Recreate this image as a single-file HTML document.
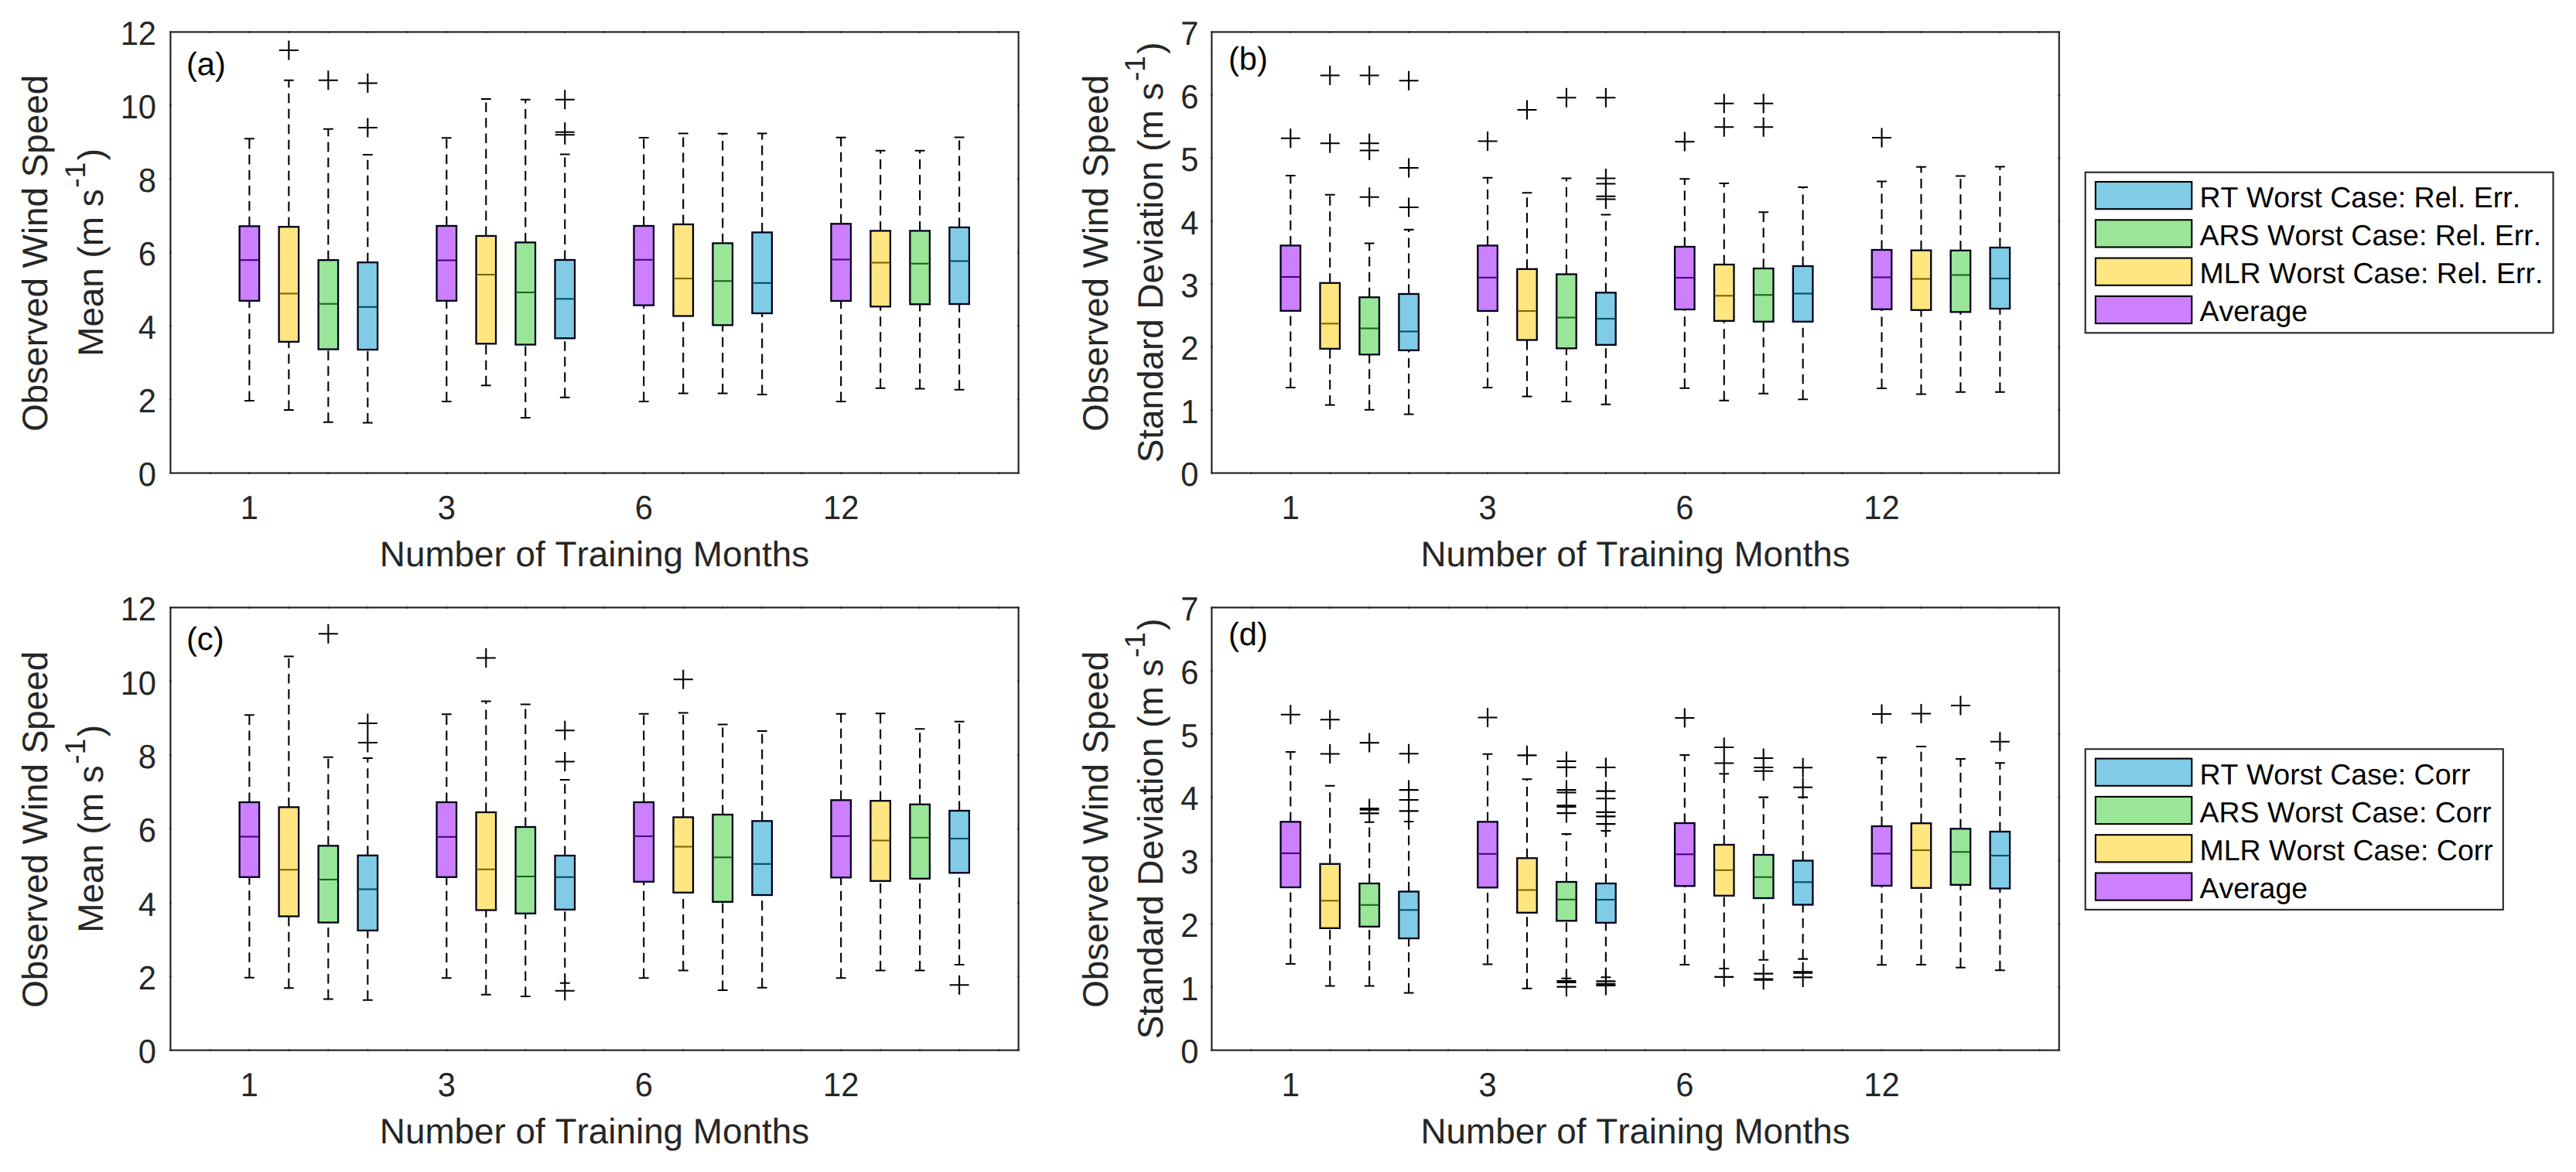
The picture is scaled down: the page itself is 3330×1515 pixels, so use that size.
<!DOCTYPE html>
<html><head><meta charset="utf-8"><title>Boxplots</title>
<style>html,body{margin:0;padding:0;background:#fff;}svg{display:block;font-family:"Liberation Sans",sans-serif;font-kerning:none;text-rendering:geometricPrecision}.t{font-size:41.67px;fill:#262626}.l{font-size:45.83px;fill:#262626}.g{font-size:37.50px;fill:#000}.n{font-size:41.67px;fill:#000}.w{stroke:#000;stroke-width:2.1;stroke-dasharray:12.5 7.5;fill:none}.k{stroke:#000;stroke-width:2.1;fill:none}</style></head><body>
<svg width="3330" height="1515" viewBox="0 0 3330 1515">
<rect x="0" y="0" width="3330" height="1515" fill="#fff"/>
<g>
<path class="w" d="M322.37 292.4V179.3"/>
<path class="w" d="M322.37 518V388.8"/>
<path class="k" d="M315.97 179.3H328.77M315.97 518H328.77"/>
<rect x="309.62" y="292.4" width="25.5" height="96.4" fill="#CC80FF" stroke="#00001a" stroke-width="2.3"/>
<path d="M310.72 336.2H334.02" stroke="#4C0080" stroke-width="2.1"/>
<path class="w" d="M373.36 293.2V103.8"/>
<path class="w" d="M373.36 530V441.8"/>
<path class="k" d="M366.96 103.8H379.76M366.96 530H379.76"/>
<rect x="360.61" y="293.2" width="25.5" height="148.6" fill="#FFE680" stroke="#00001a" stroke-width="2.3"/>
<path d="M361.71 379.5H385.01" stroke="#806600" stroke-width="2.1"/>
<path class="k" d="M360.86 65H385.86M373.36 52.5V77.5"/>
<path class="w" d="M424.34 336.2V166.8"/>
<path class="w" d="M424.34 545.8V451.5"/>
<path class="k" d="M417.94 166.8H430.74M417.94 545.8H430.74"/>
<rect x="411.59" y="336.2" width="25.5" height="115.3" fill="#99E699" stroke="#00001a" stroke-width="2.3"/>
<path d="M412.69 392.8H435.99" stroke="#1A661A" stroke-width="2.1"/>
<path class="k" d="M411.84 103.8H436.84M424.34 91.3V116.3"/>
<path class="w" d="M475.33 339.2V200"/>
<path class="w" d="M475.33 546.5V452"/>
<path class="k" d="M468.93 200H481.73M468.93 546.5H481.73"/>
<rect x="462.58" y="339.2" width="25.5" height="112.8" fill="#80CCE6" stroke="#00001a" stroke-width="2.3"/>
<path d="M463.68 396.8H486.98" stroke="#004D66" stroke-width="2.1"/>
<path class="k" d="M462.83 107.5H487.83M475.33 95V120M462.83 165H487.83M475.33 152.5V177.5"/>
<path class="w" d="M577.3 292V178.3"/>
<path class="w" d="M577.3 519V388.8"/>
<path class="k" d="M570.9 178.3H583.7M570.9 519H583.7"/>
<rect x="564.55" y="292" width="25.5" height="96.8" fill="#CC80FF" stroke="#00001a" stroke-width="2.3"/>
<path d="M565.65 336.5H588.95" stroke="#4C0080" stroke-width="2.1"/>
<path class="w" d="M628.29 305V128"/>
<path class="w" d="M628.29 498.3V444.3"/>
<path class="k" d="M621.89 128H634.69M621.89 498.3H634.69"/>
<rect x="615.54" y="305" width="25.5" height="139.3" fill="#FFE680" stroke="#00001a" stroke-width="2.3"/>
<path d="M616.64 355H639.94" stroke="#806600" stroke-width="2.1"/>
<path class="w" d="M679.27 313.4V128.8"/>
<path class="w" d="M679.27 540V445.5"/>
<path class="k" d="M672.87 128.8H685.67M672.87 540H685.67"/>
<rect x="666.52" y="313.4" width="25.5" height="132.1" fill="#99E699" stroke="#00001a" stroke-width="2.3"/>
<path d="M667.62 378H690.92" stroke="#1A661A" stroke-width="2.1"/>
<path class="w" d="M730.26 336V199.5"/>
<path class="w" d="M730.26 513.8V437.3"/>
<path class="k" d="M723.86 199.5H736.66M723.86 513.8H736.66"/>
<rect x="717.51" y="336" width="25.5" height="101.3" fill="#80CCE6" stroke="#00001a" stroke-width="2.3"/>
<path d="M718.61 386.3H741.91" stroke="#004D66" stroke-width="2.1"/>
<path class="k" d="M717.76 128.8H742.76M730.26 116.3V141.3M717.76 170.8H742.76M730.26 158.3V183.3M717.76 174.3H742.76M730.26 161.8V186.8"/>
<path class="w" d="M832.23 292V178"/>
<path class="w" d="M832.23 519V394.6"/>
<path class="k" d="M825.83 178H838.63M825.83 519H838.63"/>
<rect x="819.48" y="292" width="25.5" height="102.6" fill="#CC80FF" stroke="#00001a" stroke-width="2.3"/>
<path d="M820.58 335.8H843.88" stroke="#4C0080" stroke-width="2.1"/>
<path class="w" d="M883.22 290V172.5"/>
<path class="w" d="M883.22 508.5V408.5"/>
<path class="k" d="M876.82 172.5H889.62M876.82 508.5H889.62"/>
<rect x="870.47" y="290" width="25.5" height="118.5" fill="#FFE680" stroke="#00001a" stroke-width="2.3"/>
<path d="M871.57 360H894.87" stroke="#806600" stroke-width="2.1"/>
<path class="w" d="M934.2 314.4V172.8"/>
<path class="w" d="M934.2 508.5V420.3"/>
<path class="k" d="M927.8 172.8H940.6M927.8 508.5H940.6"/>
<rect x="921.45" y="314.4" width="25.5" height="105.9" fill="#99E699" stroke="#00001a" stroke-width="2.3"/>
<path d="M922.55 363.3H945.85" stroke="#1A661A" stroke-width="2.1"/>
<path class="w" d="M985.19 300.4V172.5"/>
<path class="w" d="M985.19 510V405"/>
<path class="k" d="M978.79 172.5H991.59M978.79 510H991.59"/>
<rect x="972.44" y="300.4" width="25.5" height="104.6" fill="#80CCE6" stroke="#00001a" stroke-width="2.3"/>
<path d="M973.54 365.8H996.84" stroke="#004D66" stroke-width="2.1"/>
<path class="w" d="M1087.16 289.3V177.8"/>
<path class="w" d="M1087.16 519V389"/>
<path class="k" d="M1080.76 177.8H1093.56M1080.76 519H1093.56"/>
<rect x="1074.41" y="289.3" width="25.5" height="99.7" fill="#CC80FF" stroke="#00001a" stroke-width="2.3"/>
<path d="M1075.51 335.5H1098.81" stroke="#4C0080" stroke-width="2.1"/>
<path class="w" d="M1138.15 298.4V194.8"/>
<path class="w" d="M1138.15 501.8V396.3"/>
<path class="k" d="M1131.75 194.8H1144.55M1131.75 501.8H1144.55"/>
<rect x="1125.4" y="298.4" width="25.5" height="97.9" fill="#FFE680" stroke="#00001a" stroke-width="2.3"/>
<path d="M1126.5 339.5H1149.8" stroke="#806600" stroke-width="2.1"/>
<path class="w" d="M1189.13 298.4V194.8"/>
<path class="w" d="M1189.13 502.5V393.3"/>
<path class="k" d="M1182.73 194.8H1195.53M1182.73 502.5H1195.53"/>
<rect x="1176.38" y="298.4" width="25.5" height="94.9" fill="#99E699" stroke="#00001a" stroke-width="2.3"/>
<path d="M1177.48 340.8H1200.78" stroke="#1A661A" stroke-width="2.1"/>
<path class="w" d="M1240.12 293.9V177.5"/>
<path class="w" d="M1240.12 503.8V393"/>
<path class="k" d="M1233.72 177.5H1246.52M1233.72 503.8H1246.52"/>
<rect x="1227.37" y="293.9" width="25.5" height="99.1" fill="#80CCE6" stroke="#00001a" stroke-width="2.3"/>
<path d="M1228.47 337.5H1251.77" stroke="#004D66" stroke-width="2.1"/>
<rect x="220.4" y="41.4" width="1096.2" height="570.1" fill="none" stroke="#262626" stroke-width="2.2"/>
<path d="M271.39 39.9v3M271.39 610v3M322.37 39.9v3M322.37 610v3M373.36 39.9v3M373.36 610v3M424.34 39.9v3M424.34 610v3M475.33 39.9v3M475.33 610v3M526.32 39.9v3M526.32 610v3M577.3 39.9v3M577.3 610v3M628.29 39.9v3M628.29 610v3M679.27 39.9v3M679.27 610v3M730.26 39.9v3M730.26 610v3M781.25 39.9v3M781.25 610v3M832.23 39.9v3M832.23 610v3M883.22 39.9v3M883.22 610v3M934.2 39.9v3M934.2 610v3M985.19 39.9v3M985.19 610v3M1036.18 39.9v3M1036.18 610v3M1087.16 39.9v3M1087.16 610v3M1138.15 39.9v3M1138.15 610v3M1189.13 39.9v3M1189.13 610v3M1240.12 39.9v3M1240.12 610v3M1291.11 39.9v3M1291.11 610v3M218.9 611.5h3M1315.1 611.5h3M218.9 516.48h3M1315.1 516.48h3M218.9 421.47h3M1315.1 421.47h3M218.9 326.45h3M1315.1 326.45h3M218.9 231.43h3M1315.1 231.43h3M218.9 136.42h3M1315.1 136.42h3M218.9 41.4h3M1315.1 41.4h3" stroke="#262626" stroke-width="2.2" opacity="0.6" fill="none"/>
<text class="t" transform="translate(202 628.3) scale(1 1.04)" text-anchor="end">0</text>
<text class="t" transform="translate(202 533.28) scale(1 1.04)" text-anchor="end">2</text>
<text class="t" transform="translate(202 438.27) scale(1 1.04)" text-anchor="end">4</text>
<text class="t" transform="translate(202 343.25) scale(1 1.04)" text-anchor="end">6</text>
<text class="t" transform="translate(202 248.23) scale(1 1.04)" text-anchor="end">8</text>
<text class="t" transform="translate(202 153.22) scale(1 1.04)" text-anchor="end">10</text>
<text class="t" transform="translate(202 58.2) scale(1 1.04)" text-anchor="end">12</text>
<text class="t" transform="translate(322.37 671.2) scale(1 1.04)" text-anchor="middle">1</text>
<text class="t" transform="translate(577.3 671.2) scale(1 1.04)" text-anchor="middle">3</text>
<text class="t" transform="translate(832.23 671.2) scale(1 1.04)" text-anchor="middle">6</text>
<text class="t" transform="translate(1087.16 671.2) scale(1 1.04)" text-anchor="middle">12</text>
<text class="l" x="768.5" y="731.6" text-anchor="middle">Number of Training Months</text>
<text class="l" transform="translate(61.4 327.25) rotate(-90)" text-anchor="middle">Observed Wind Speed</text>
<text class="l" transform="translate(132.7 326.45) rotate(-90)" text-anchor="middle">Mean (m s<tspan dx="1.7" dy="-22.7" font-size="37.2">-1</tspan><tspan dx="2.2" dy="22.7">)</tspan></text>
<text class="n" x="241" y="96.5">(a)</text>
</g>
<g>
<path class="w" d="M1668.3 317.4V227"/>
<path class="w" d="M1668.3 501V401.8"/>
<path class="k" d="M1661.9 227H1674.7M1661.9 501H1674.7"/>
<rect x="1655.55" y="317.4" width="25.5" height="84.4" fill="#CC80FF" stroke="#00001a" stroke-width="2.3"/>
<path d="M1656.65 358H1679.95" stroke="#4C0080" stroke-width="2.1"/>
<path class="k" d="M1655.8 178.75H1680.8M1668.3 166.25V191.25"/>
<path class="w" d="M1719.25 365.8V251.8"/>
<path class="w" d="M1719.25 523.5V450.8"/>
<path class="k" d="M1712.85 251.8H1725.65M1712.85 523.5H1725.65"/>
<rect x="1706.5" y="365.8" width="25.5" height="85" fill="#FFE680" stroke="#00001a" stroke-width="2.3"/>
<path d="M1707.6 418.3H1730.9" stroke="#806600" stroke-width="2.1"/>
<path class="k" d="M1706.75 97.5H1731.75M1719.25 85V110M1706.75 185.25H1731.75M1719.25 172.75V197.75"/>
<path class="w" d="M1770.2 384.3V314.5"/>
<path class="w" d="M1770.2 529.8V458.3"/>
<path class="k" d="M1763.8 314.5H1776.6M1763.8 529.8H1776.6"/>
<rect x="1757.45" y="384.3" width="25.5" height="74" fill="#99E699" stroke="#00001a" stroke-width="2.3"/>
<path d="M1758.55 424.5H1781.85" stroke="#1A661A" stroke-width="2.1"/>
<path class="k" d="M1757.7 97.5H1782.7M1770.2 85V110M1757.7 185.25H1782.7M1770.2 172.75V197.75M1757.7 194.5H1782.7M1770.2 182V207M1757.7 254.75H1782.7M1770.2 242.25V267.25"/>
<path class="w" d="M1821.14 380V296.9"/>
<path class="w" d="M1821.14 535.5V452.8"/>
<path class="k" d="M1814.74 296.9H1827.54M1814.74 535.5H1827.54"/>
<rect x="1808.39" y="380" width="25.5" height="72.8" fill="#80CCE6" stroke="#00001a" stroke-width="2.3"/>
<path d="M1809.49 428.5H1832.79" stroke="#004D66" stroke-width="2.1"/>
<path class="k" d="M1808.64 104.25H1833.64M1821.14 91.75V116.75M1808.64 217H1833.64M1821.14 204.5V229.5M1808.64 268H1833.64M1821.14 255.5V280.5"/>
<path class="w" d="M1923.04 317.4V229.7"/>
<path class="w" d="M1923.04 501V402"/>
<path class="k" d="M1916.64 229.7H1929.44M1916.64 501H1929.44"/>
<rect x="1910.29" y="317.4" width="25.5" height="84.6" fill="#CC80FF" stroke="#00001a" stroke-width="2.3"/>
<path d="M1911.39 358.8H1934.69" stroke="#4C0080" stroke-width="2.1"/>
<path class="k" d="M1910.54 182.5H1935.54M1923.04 170V195"/>
<path class="w" d="M1973.99 347.8V249.3"/>
<path class="w" d="M1973.99 512.5V439.5"/>
<path class="k" d="M1967.59 249.3H1980.39M1967.59 512.5H1980.39"/>
<rect x="1961.24" y="347.8" width="25.5" height="91.7" fill="#FFE680" stroke="#00001a" stroke-width="2.3"/>
<path d="M1962.34 402H1985.64" stroke="#806600" stroke-width="2.1"/>
<path class="k" d="M1961.49 142H1986.49M1973.99 129.5V154.5"/>
<path class="w" d="M2024.94 354.5V230.5"/>
<path class="w" d="M2024.94 519V450.3"/>
<path class="k" d="M2018.54 230.5H2031.34M2018.54 519H2031.34"/>
<rect x="2012.19" y="354.5" width="25.5" height="95.8" fill="#99E699" stroke="#00001a" stroke-width="2.3"/>
<path d="M2013.29 410.5H2036.59" stroke="#1A661A" stroke-width="2.1"/>
<path class="k" d="M2012.44 126.25H2037.44M2024.94 113.75V138.75"/>
<path class="w" d="M2075.89 378.3V277.5"/>
<path class="w" d="M2075.89 522.8V445.8"/>
<path class="k" d="M2069.49 277.5H2082.29M2069.49 522.8H2082.29"/>
<rect x="2063.14" y="378.3" width="25.5" height="67.5" fill="#80CCE6" stroke="#00001a" stroke-width="2.3"/>
<path d="M2064.24 412H2087.54" stroke="#004D66" stroke-width="2.1"/>
<path class="k" d="M2063.39 126.25H2088.39M2075.89 113.75V138.75M2063.39 230.5H2088.39M2075.89 218V243M2063.39 237.5H2088.39M2075.89 225V250M2063.39 253.75H2088.39M2075.89 241.25V266.25M2063.39 257.5H2088.39M2075.89 245V270"/>
<path class="w" d="M2177.79 319V231.2"/>
<path class="w" d="M2177.79 501.8V400"/>
<path class="k" d="M2171.39 231.2H2184.19M2171.39 501.8H2184.19"/>
<rect x="2165.04" y="319" width="25.5" height="81" fill="#CC80FF" stroke="#00001a" stroke-width="2.3"/>
<path d="M2166.14 359H2189.44" stroke="#4C0080" stroke-width="2.1"/>
<path class="k" d="M2165.29 183.1H2190.29M2177.79 170.6V195.6"/>
<path class="w" d="M2228.73 342V237"/>
<path class="w" d="M2228.73 517.8V414.8"/>
<path class="k" d="M2222.33 237H2235.13M2222.33 517.8H2235.13"/>
<rect x="2215.98" y="342" width="25.5" height="72.8" fill="#FFE680" stroke="#00001a" stroke-width="2.3"/>
<path d="M2217.08 382.3H2240.38" stroke="#806600" stroke-width="2.1"/>
<path class="k" d="M2216.23 133.75H2241.23M2228.73 121.25V146.25M2216.23 164.25H2241.23M2228.73 151.75V176.75"/>
<path class="w" d="M2279.68 347V274.3"/>
<path class="w" d="M2279.68 508.8V415.8"/>
<path class="k" d="M2273.28 274.3H2286.08M2273.28 508.8H2286.08"/>
<rect x="2266.93" y="347" width="25.5" height="68.8" fill="#99E699" stroke="#00001a" stroke-width="2.3"/>
<path d="M2268.03 381.3H2291.33" stroke="#1A661A" stroke-width="2.1"/>
<path class="k" d="M2267.18 133.75H2292.18M2279.68 121.25V146.25M2267.18 164.25H2292.18M2279.68 151.75V176.75"/>
<path class="w" d="M2330.63 344V242"/>
<path class="w" d="M2330.63 516.3V415.8"/>
<path class="k" d="M2324.23 242H2337.03M2324.23 516.3H2337.03"/>
<rect x="2317.88" y="344" width="25.5" height="71.8" fill="#80CCE6" stroke="#00001a" stroke-width="2.3"/>
<path d="M2318.98 379.5H2342.28" stroke="#004D66" stroke-width="2.1"/>
<path class="w" d="M2432.53 323V234.5"/>
<path class="w" d="M2432.53 502V399.8"/>
<path class="k" d="M2426.13 234.5H2438.93M2426.13 502H2438.93"/>
<rect x="2419.78" y="323" width="25.5" height="76.8" fill="#CC80FF" stroke="#00001a" stroke-width="2.3"/>
<path d="M2420.88 358.5H2444.18" stroke="#4C0080" stroke-width="2.1"/>
<path class="k" d="M2420.03 178H2445.03M2432.53 165.5V190.5"/>
<path class="w" d="M2483.48 323.6V215.8"/>
<path class="w" d="M2483.48 509.5V400.8"/>
<path class="k" d="M2477.08 215.8H2489.88M2477.08 509.5H2489.88"/>
<rect x="2470.73" y="323.6" width="25.5" height="77.2" fill="#FFE680" stroke="#00001a" stroke-width="2.3"/>
<path d="M2471.83 360.5H2495.13" stroke="#806600" stroke-width="2.1"/>
<path class="w" d="M2534.43 323.8V227.5"/>
<path class="w" d="M2534.43 506.8V403.3"/>
<path class="k" d="M2528.03 227.5H2540.83M2528.03 506.8H2540.83"/>
<rect x="2521.68" y="323.8" width="25.5" height="79.5" fill="#99E699" stroke="#00001a" stroke-width="2.3"/>
<path d="M2522.78 355.5H2546.08" stroke="#1A661A" stroke-width="2.1"/>
<path class="w" d="M2585.38 320V215.5"/>
<path class="w" d="M2585.38 506.8V399"/>
<path class="k" d="M2578.98 215.5H2591.78M2578.98 506.8H2591.78"/>
<rect x="2572.63" y="320" width="25.5" height="79" fill="#80CCE6" stroke="#00001a" stroke-width="2.3"/>
<path d="M2573.73 360H2597.03" stroke="#004D66" stroke-width="2.1"/>
<rect x="1566.4" y="41.4" width="1095.4" height="570.1" fill="none" stroke="#262626" stroke-width="2.2"/>
<path d="M1617.35 39.9v3M1617.35 610v3M1668.3 39.9v3M1668.3 610v3M1719.25 39.9v3M1719.25 610v3M1770.2 39.9v3M1770.2 610v3M1821.14 39.9v3M1821.14 610v3M1872.09 39.9v3M1872.09 610v3M1923.04 39.9v3M1923.04 610v3M1973.99 39.9v3M1973.99 610v3M2024.94 39.9v3M2024.94 610v3M2075.89 39.9v3M2075.89 610v3M2126.84 39.9v3M2126.84 610v3M2177.79 39.9v3M2177.79 610v3M2228.73 39.9v3M2228.73 610v3M2279.68 39.9v3M2279.68 610v3M2330.63 39.9v3M2330.63 610v3M2381.58 39.9v3M2381.58 610v3M2432.53 39.9v3M2432.53 610v3M2483.48 39.9v3M2483.48 610v3M2534.43 39.9v3M2534.43 610v3M2585.38 39.9v3M2585.38 610v3M2636.33 39.9v3M2636.33 610v3M1564.9 611.5h3M2660.3 611.5h3M1564.9 530.06h3M2660.3 530.06h3M1564.9 448.61h3M2660.3 448.61h3M1564.9 367.17h3M2660.3 367.17h3M1564.9 285.73h3M2660.3 285.73h3M1564.9 204.29h3M2660.3 204.29h3M1564.9 122.84h3M2660.3 122.84h3M1564.9 41.4h3M2660.3 41.4h3" stroke="#262626" stroke-width="2.2" opacity="0.6" fill="none"/>
<text class="t" transform="translate(1549.4 628.3) scale(1 1.04)" text-anchor="end">0</text>
<text class="t" transform="translate(1549.4 546.86) scale(1 1.04)" text-anchor="end">1</text>
<text class="t" transform="translate(1549.4 465.41) scale(1 1.04)" text-anchor="end">2</text>
<text class="t" transform="translate(1549.4 383.97) scale(1 1.04)" text-anchor="end">3</text>
<text class="t" transform="translate(1549.4 302.53) scale(1 1.04)" text-anchor="end">4</text>
<text class="t" transform="translate(1549.4 221.09) scale(1 1.04)" text-anchor="end">5</text>
<text class="t" transform="translate(1549.4 139.64) scale(1 1.04)" text-anchor="end">6</text>
<text class="t" transform="translate(1549.4 58.2) scale(1 1.04)" text-anchor="end">7</text>
<text class="t" transform="translate(1668.3 671.2) scale(1 1.04)" text-anchor="middle">1</text>
<text class="t" transform="translate(1923.04 671.2) scale(1 1.04)" text-anchor="middle">3</text>
<text class="t" transform="translate(2177.79 671.2) scale(1 1.04)" text-anchor="middle">6</text>
<text class="t" transform="translate(2432.53 671.2) scale(1 1.04)" text-anchor="middle">12</text>
<text class="l" x="2114.1" y="731.6" text-anchor="middle">Number of Training Months</text>
<text class="l" transform="translate(1431.7 327.25) rotate(-90)" text-anchor="middle">Observed Wind Speed</text>
<text class="l" transform="translate(1503 326.45) rotate(-90)" text-anchor="middle">Standard Deviation (m s<tspan dx="1.7" dy="-22.7" font-size="37.2">-1</tspan><tspan dx="2.2" dy="22.7">)</tspan></text>
<text class="n" x="1587.9" y="90.2">(b)</text>
</g>
<g>
<path class="w" d="M322.37 1037V924.3"/>
<path class="w" d="M322.37 1263.8V1133.8"/>
<path class="k" d="M315.97 924.3H328.77M315.97 1263.8H328.77"/>
<rect x="309.62" y="1037" width="25.5" height="96.8" fill="#CC80FF" stroke="#00001a" stroke-width="2.3"/>
<path d="M310.72 1081.5H334.02" stroke="#4C0080" stroke-width="2.1"/>
<path class="w" d="M373.36 1043.4V848.5"/>
<path class="w" d="M373.36 1277.3V1184.5"/>
<path class="k" d="M366.96 848.5H379.76M366.96 1277.3H379.76"/>
<rect x="360.61" y="1043.4" width="25.5" height="141.1" fill="#FFE680" stroke="#00001a" stroke-width="2.3"/>
<path d="M361.71 1124.3H385.01" stroke="#806600" stroke-width="2.1"/>
<path class="w" d="M424.34 1093.3V978.8"/>
<path class="w" d="M424.34 1291.5V1192.5"/>
<path class="k" d="M417.94 978.8H430.74M417.94 1291.5H430.74"/>
<rect x="411.59" y="1093.3" width="25.5" height="99.2" fill="#99E699" stroke="#00001a" stroke-width="2.3"/>
<path d="M412.69 1137H435.99" stroke="#1A661A" stroke-width="2.1"/>
<path class="k" d="M411.84 819.25H436.84M424.34 806.75V831.75"/>
<path class="w" d="M475.33 1105.8V980"/>
<path class="w" d="M475.33 1292.8V1202.8"/>
<path class="k" d="M468.93 980H481.73M468.93 1292.8H481.73"/>
<rect x="462.58" y="1105.8" width="25.5" height="97" fill="#80CCE6" stroke="#00001a" stroke-width="2.3"/>
<path d="M463.68 1149.5H486.98" stroke="#004D66" stroke-width="2.1"/>
<path class="k" d="M462.83 935H487.83M475.33 922.5V947.5M462.83 960H487.83M475.33 947.5V972.5"/>
<path class="w" d="M577.3 1037V923.3"/>
<path class="w" d="M577.3 1264.3V1133.8"/>
<path class="k" d="M570.9 923.3H583.7M570.9 1264.3H583.7"/>
<rect x="564.55" y="1037" width="25.5" height="96.8" fill="#CC80FF" stroke="#00001a" stroke-width="2.3"/>
<path d="M565.65 1081.8H588.95" stroke="#4C0080" stroke-width="2.1"/>
<path class="w" d="M628.29 1050V906.5"/>
<path class="w" d="M628.29 1285.8V1176.5"/>
<path class="k" d="M621.89 906.5H634.69M621.89 1285.8H634.69"/>
<rect x="615.54" y="1050" width="25.5" height="126.5" fill="#FFE680" stroke="#00001a" stroke-width="2.3"/>
<path d="M616.64 1123.8H639.94" stroke="#806600" stroke-width="2.1"/>
<path class="k" d="M615.79 850.5H640.79M628.29 838V863"/>
<path class="w" d="M679.27 1069V910.5"/>
<path class="w" d="M679.27 1288V1180.8"/>
<path class="k" d="M672.87 910.5H685.67M672.87 1288H685.67"/>
<rect x="666.52" y="1069" width="25.5" height="111.8" fill="#99E699" stroke="#00001a" stroke-width="2.3"/>
<path d="M667.62 1133H690.92" stroke="#1A661A" stroke-width="2.1"/>
<path class="w" d="M730.26 1106V1008"/>
<path class="w" d="M730.26 1270.8V1175.8"/>
<path class="k" d="M723.86 1008H736.66M723.86 1270.8H736.66"/>
<rect x="717.51" y="1106" width="25.5" height="69.8" fill="#80CCE6" stroke="#00001a" stroke-width="2.3"/>
<path d="M718.61 1133.8H741.91" stroke="#004D66" stroke-width="2.1"/>
<path class="k" d="M717.76 944.25H742.76M730.26 931.75V956.75M717.76 984.5H742.76M730.26 972V997M717.76 1280.75H742.76M730.26 1268.25V1293.25"/>
<path class="w" d="M832.23 1037V922.8"/>
<path class="w" d="M832.23 1264.3V1139.8"/>
<path class="k" d="M825.83 922.8H838.63M825.83 1264.3H838.63"/>
<rect x="819.48" y="1037" width="25.5" height="102.8" fill="#CC80FF" stroke="#00001a" stroke-width="2.3"/>
<path d="M820.58 1081H843.88" stroke="#4C0080" stroke-width="2.1"/>
<path class="w" d="M883.22 1056.4V921.5"/>
<path class="w" d="M883.22 1254.5V1153.8"/>
<path class="k" d="M876.82 921.5H889.62M876.82 1254.5H889.62"/>
<rect x="870.47" y="1056.4" width="25.5" height="97.4" fill="#FFE680" stroke="#00001a" stroke-width="2.3"/>
<path d="M871.57 1094.5H894.87" stroke="#806600" stroke-width="2.1"/>
<path class="k" d="M870.72 878.25H895.72M883.22 865.75V890.75"/>
<path class="w" d="M934.2 1053V936.5"/>
<path class="w" d="M934.2 1280V1165.8"/>
<path class="k" d="M927.8 936.5H940.6M927.8 1280H940.6"/>
<rect x="921.45" y="1053" width="25.5" height="112.8" fill="#99E699" stroke="#00001a" stroke-width="2.3"/>
<path d="M922.55 1108.3H945.85" stroke="#1A661A" stroke-width="2.1"/>
<path class="w" d="M985.19 1061.3V945"/>
<path class="w" d="M985.19 1276.8V1157"/>
<path class="k" d="M978.79 945H991.59M978.79 1276.8H991.59"/>
<rect x="972.44" y="1061.3" width="25.5" height="95.7" fill="#80CCE6" stroke="#00001a" stroke-width="2.3"/>
<path d="M973.54 1116.8H996.84" stroke="#004D66" stroke-width="2.1"/>
<path class="w" d="M1087.16 1034.3V922.8"/>
<path class="w" d="M1087.16 1264.3V1134.3"/>
<path class="k" d="M1080.76 922.8H1093.56M1080.76 1264.3H1093.56"/>
<rect x="1074.41" y="1034.3" width="25.5" height="100" fill="#CC80FF" stroke="#00001a" stroke-width="2.3"/>
<path d="M1075.51 1080.8H1098.81" stroke="#4C0080" stroke-width="2.1"/>
<path class="w" d="M1138.15 1035.2V922.3"/>
<path class="w" d="M1138.15 1254.5V1138.8"/>
<path class="k" d="M1131.75 922.3H1144.55M1131.75 1254.5H1144.55"/>
<rect x="1125.4" y="1035.2" width="25.5" height="103.6" fill="#FFE680" stroke="#00001a" stroke-width="2.3"/>
<path d="M1126.5 1086.5H1149.8" stroke="#806600" stroke-width="2.1"/>
<path class="w" d="M1189.13 1039.8V942.3"/>
<path class="w" d="M1189.13 1254.5V1135.8"/>
<path class="k" d="M1182.73 942.3H1195.53M1182.73 1254.5H1195.53"/>
<rect x="1176.38" y="1039.8" width="25.5" height="96" fill="#99E699" stroke="#00001a" stroke-width="2.3"/>
<path d="M1177.48 1082.8H1200.78" stroke="#1A661A" stroke-width="2.1"/>
<path class="w" d="M1240.12 1048V932.8"/>
<path class="w" d="M1240.12 1247V1128.3"/>
<path class="k" d="M1233.72 932.8H1246.52M1233.72 1247H1246.52"/>
<rect x="1227.37" y="1048" width="25.5" height="80.3" fill="#80CCE6" stroke="#00001a" stroke-width="2.3"/>
<path d="M1228.47 1084H1251.77" stroke="#004D66" stroke-width="2.1"/>
<path class="k" d="M1227.62 1273.25H1252.62M1240.12 1260.75V1285.75"/>
<rect x="220.4" y="785.35" width="1096.2" height="572.2" fill="none" stroke="#262626" stroke-width="2.2"/>
<path d="M271.39 783.85v3M271.39 1356.05v3M322.37 783.85v3M322.37 1356.05v3M373.36 783.85v3M373.36 1356.05v3M424.34 783.85v3M424.34 1356.05v3M475.33 783.85v3M475.33 1356.05v3M526.32 783.85v3M526.32 1356.05v3M577.3 783.85v3M577.3 1356.05v3M628.29 783.85v3M628.29 1356.05v3M679.27 783.85v3M679.27 1356.05v3M730.26 783.85v3M730.26 1356.05v3M781.25 783.85v3M781.25 1356.05v3M832.23 783.85v3M832.23 1356.05v3M883.22 783.85v3M883.22 1356.05v3M934.2 783.85v3M934.2 1356.05v3M985.19 783.85v3M985.19 1356.05v3M1036.18 783.85v3M1036.18 1356.05v3M1087.16 783.85v3M1087.16 1356.05v3M1138.15 783.85v3M1138.15 1356.05v3M1189.13 783.85v3M1189.13 1356.05v3M1240.12 783.85v3M1240.12 1356.05v3M1291.11 783.85v3M1291.11 1356.05v3M218.9 1357.55h3M1315.1 1357.55h3M218.9 1262.18h3M1315.1 1262.18h3M218.9 1166.82h3M1315.1 1166.82h3M218.9 1071.45h3M1315.1 1071.45h3M218.9 976.08h3M1315.1 976.08h3M218.9 880.72h3M1315.1 880.72h3M218.9 785.35h3M1315.1 785.35h3" stroke="#262626" stroke-width="2.2" opacity="0.6" fill="none"/>
<text class="t" transform="translate(202 1374.35) scale(1 1.04)" text-anchor="end">0</text>
<text class="t" transform="translate(202 1278.98) scale(1 1.04)" text-anchor="end">2</text>
<text class="t" transform="translate(202 1183.62) scale(1 1.04)" text-anchor="end">4</text>
<text class="t" transform="translate(202 1088.25) scale(1 1.04)" text-anchor="end">6</text>
<text class="t" transform="translate(202 992.88) scale(1 1.04)" text-anchor="end">8</text>
<text class="t" transform="translate(202 897.52) scale(1 1.04)" text-anchor="end">10</text>
<text class="t" transform="translate(202 802.15) scale(1 1.04)" text-anchor="end">12</text>
<text class="t" transform="translate(322.37 1417.25) scale(1 1.04)" text-anchor="middle">1</text>
<text class="t" transform="translate(577.3 1417.25) scale(1 1.04)" text-anchor="middle">3</text>
<text class="t" transform="translate(832.23 1417.25) scale(1 1.04)" text-anchor="middle">6</text>
<text class="t" transform="translate(1087.16 1417.25) scale(1 1.04)" text-anchor="middle">12</text>
<text class="l" x="768.5" y="1477.65" text-anchor="middle">Number of Training Months</text>
<text class="l" transform="translate(61.4 1072.25) rotate(-90)" text-anchor="middle">Observed Wind Speed</text>
<text class="l" transform="translate(132.7 1071.45) rotate(-90)" text-anchor="middle">Mean (m s<tspan dx="1.7" dy="-22.7" font-size="37.2">-1</tspan><tspan dx="2.2" dy="22.7">)</tspan></text>
<text class="n" x="241" y="840.45">(c)</text>
</g>
<g>
<path class="w" d="M1668.3 1062.3V972"/>
<path class="w" d="M1668.3 1246V1147"/>
<path class="k" d="M1661.9 972H1674.7M1661.9 1246H1674.7"/>
<rect x="1655.55" y="1062.3" width="25.5" height="84.7" fill="#CC80FF" stroke="#00001a" stroke-width="2.3"/>
<path d="M1656.65 1103H1679.95" stroke="#4C0080" stroke-width="2.1"/>
<path class="k" d="M1655.8 923.75H1680.8M1668.3 911.25V936.25"/>
<path class="w" d="M1719.25 1116.8V1015.8"/>
<path class="w" d="M1719.25 1274.5V1199.8"/>
<path class="k" d="M1712.85 1015.8H1725.65M1712.85 1274.5H1725.65"/>
<rect x="1706.5" y="1116.8" width="25.5" height="83" fill="#FFE680" stroke="#00001a" stroke-width="2.3"/>
<path d="M1707.6 1164.3H1730.9" stroke="#806600" stroke-width="2.1"/>
<path class="k" d="M1706.75 930.25H1731.75M1719.25 917.75V942.75M1706.75 974.5H1731.75M1719.25 962V987"/>
<path class="w" d="M1770.2 1142V1062.7"/>
<path class="w" d="M1770.2 1274.5V1197.8"/>
<path class="k" d="M1763.8 1062.7H1776.6M1763.8 1274.5H1776.6"/>
<rect x="1757.45" y="1142" width="25.5" height="55.8" fill="#99E699" stroke="#00001a" stroke-width="2.3"/>
<path d="M1758.55 1169.8H1781.85" stroke="#1A661A" stroke-width="2.1"/>
<path class="k" d="M1757.7 960.1H1782.7M1770.2 947.6V972.6M1757.7 1045H1782.7M1770.2 1032.5V1057.5M1757.7 1046.8H1782.7M1770.2 1034.3V1059.3M1757.7 1051.4H1782.7M1770.2 1038.9V1063.9"/>
<path class="w" d="M1821.14 1152.5V1062"/>
<path class="w" d="M1821.14 1283.5V1213"/>
<path class="k" d="M1814.74 1062H1827.54M1814.74 1283.5H1827.54"/>
<rect x="1808.39" y="1152.5" width="25.5" height="60.5" fill="#80CCE6" stroke="#00001a" stroke-width="2.3"/>
<path d="M1809.49 1176.3H1832.79" stroke="#004D66" stroke-width="2.1"/>
<path class="k" d="M1808.64 974.2H1833.64M1821.14 961.7V986.7M1808.64 1021.1H1833.64M1821.14 1008.6V1033.6M1808.64 1034H1833.64M1821.14 1021.5V1046.5M1808.64 1048.4H1833.64M1821.14 1035.9V1060.9"/>
<path class="w" d="M1923.04 1062.3V974.8"/>
<path class="w" d="M1923.04 1246.5V1147.3"/>
<path class="k" d="M1916.64 974.8H1929.44M1916.64 1246.5H1929.44"/>
<rect x="1910.29" y="1062.3" width="25.5" height="85" fill="#CC80FF" stroke="#00001a" stroke-width="2.3"/>
<path d="M1911.39 1103.8H1934.69" stroke="#4C0080" stroke-width="2.1"/>
<path class="k" d="M1910.54 927.5H1935.54M1923.04 915V940"/>
<path class="w" d="M1973.99 1109.3V1007.2"/>
<path class="w" d="M1973.99 1277.8V1179.8"/>
<path class="k" d="M1967.59 1007.2H1980.39M1967.59 1277.8H1980.39"/>
<rect x="1961.24" y="1109.3" width="25.5" height="70.5" fill="#FFE680" stroke="#00001a" stroke-width="2.3"/>
<path d="M1962.34 1150.5H1985.64" stroke="#806600" stroke-width="2.1"/>
<path class="k" d="M1961.49 976.4H1986.49M1973.99 963.9V988.9"/>
<path class="w" d="M2024.94 1140V1078.1"/>
<path class="w" d="M2024.94 1264.7V1190.3"/>
<path class="k" d="M2018.54 1078.1H2031.34M2018.54 1264.7H2031.34"/>
<rect x="2012.19" y="1140" width="25.5" height="50.3" fill="#99E699" stroke="#00001a" stroke-width="2.3"/>
<path d="M2013.29 1162.8H2036.59" stroke="#1A661A" stroke-width="2.1"/>
<path class="k" d="M2012.44 984H2037.44M2024.94 971.5V996.5M2012.44 991.9H2037.44M2024.94 979.4V1004.4M2012.44 1021.1H2037.44M2024.94 1008.6V1033.6M2012.44 1024.5H2037.44M2024.94 1012V1037M2012.44 1041.2H2037.44M2024.94 1028.7V1053.7M2012.44 1043H2037.44M2024.94 1030.5V1055.5M2012.44 1051.1H2037.44M2024.94 1038.6V1063.6M2012.44 1268.1H2037.44M2024.94 1255.6V1280.6M2012.44 1270H2037.44M2024.94 1257.5V1282.5M2012.44 1275.6H2037.44M2024.94 1263.1V1288.1"/>
<path class="w" d="M2075.89 1142V1074"/>
<path class="w" d="M2075.89 1263.3V1192.8"/>
<path class="k" d="M2069.49 1074H2082.29M2069.49 1263.3H2082.29"/>
<rect x="2063.14" y="1142" width="25.5" height="50.8" fill="#80CCE6" stroke="#00001a" stroke-width="2.3"/>
<path d="M2064.24 1163H2087.54" stroke="#004D66" stroke-width="2.1"/>
<path class="k" d="M2063.39 992H2088.39M2075.89 979.5V1004.5M2063.39 1022.6H2088.39M2075.89 1010.1V1035.1M2063.39 1032.2H2088.39M2075.89 1019.7V1044.7M2063.39 1049.9H2088.39M2075.89 1037.4V1062.4M2063.39 1055.4H2088.39M2075.89 1042.9V1067.9M2063.39 1065.1H2088.39M2075.89 1052.6V1077.6M2063.39 1268.4H2088.39M2075.89 1255.9V1280.9M2063.39 1271.9H2088.39M2075.89 1259.4V1284.4M2063.39 1274H2088.39M2075.89 1261.5V1286.5"/>
<path class="w" d="M2177.79 1064V976"/>
<path class="w" d="M2177.79 1247V1145.3"/>
<path class="k" d="M2171.39 976H2184.19M2171.39 1247H2184.19"/>
<rect x="2165.04" y="1064" width="25.5" height="81.3" fill="#CC80FF" stroke="#00001a" stroke-width="2.3"/>
<path d="M2166.14 1104.3H2189.44" stroke="#4C0080" stroke-width="2.1"/>
<path class="k" d="M2165.29 928H2190.29M2177.79 915.5V940.5"/>
<path class="w" d="M2228.73 1092V1000.3"/>
<path class="w" d="M2228.73 1252V1157.8"/>
<path class="k" d="M2222.33 1000.3H2235.13M2222.33 1252H2235.13"/>
<rect x="2215.98" y="1092" width="25.5" height="65.8" fill="#FFE680" stroke="#00001a" stroke-width="2.3"/>
<path d="M2217.08 1124.8H2240.38" stroke="#806600" stroke-width="2.1"/>
<path class="k" d="M2216.23 966H2241.23M2228.73 953.5V978.5M2216.23 986.5H2241.23M2228.73 974V999M2216.23 1262.9H2241.23M2228.73 1250.4V1275.4"/>
<path class="w" d="M2279.68 1105V1030.6"/>
<path class="w" d="M2279.68 1240.8V1161"/>
<path class="k" d="M2273.28 1030.6H2286.08M2273.28 1240.8H2286.08"/>
<rect x="2266.93" y="1105" width="25.5" height="56" fill="#99E699" stroke="#00001a" stroke-width="2.3"/>
<path d="M2268.03 1133.8H2291.33" stroke="#1A661A" stroke-width="2.1"/>
<path class="k" d="M2267.18 980H2292.18M2279.68 967.5V992.5M2267.18 992H2292.18M2279.68 979.5V1004.5M2267.18 996.8H2292.18M2279.68 984.3V1009.3M2267.18 1258.6H2292.18M2279.68 1246.1V1271.1M2267.18 1265.5H2292.18M2279.68 1253V1278M2267.18 1266.8H2292.18M2279.68 1254.3V1279.3"/>
<path class="w" d="M2330.63 1112.5V1030.6"/>
<path class="w" d="M2330.63 1239.6V1169.5"/>
<path class="k" d="M2324.23 1030.6H2337.03M2324.23 1239.6H2337.03"/>
<rect x="2317.88" y="1112.5" width="25.5" height="57" fill="#80CCE6" stroke="#00001a" stroke-width="2.3"/>
<path d="M2318.98 1140.3H2342.28" stroke="#004D66" stroke-width="2.1"/>
<path class="k" d="M2318.13 992.3H2343.13M2330.63 979.8V1004.8M2318.13 1017.8H2343.13M2330.63 1005.3V1030.3M2318.13 1256.3H2343.13M2330.63 1243.8V1268.8M2318.13 1257.7H2343.13M2330.63 1245.2V1270.2M2318.13 1263.4H2343.13M2330.63 1250.9V1275.9"/>
<path class="w" d="M2432.53 1068V979.3"/>
<path class="w" d="M2432.53 1247.3V1145"/>
<path class="k" d="M2426.13 979.3H2438.93M2426.13 1247.3H2438.93"/>
<rect x="2419.78" y="1068" width="25.5" height="77" fill="#CC80FF" stroke="#00001a" stroke-width="2.3"/>
<path d="M2420.88 1103.5H2444.18" stroke="#4C0080" stroke-width="2.1"/>
<path class="k" d="M2420.03 923H2445.03M2432.53 910.5V935.5"/>
<path class="w" d="M2483.48 1064.2V965"/>
<path class="w" d="M2483.48 1247V1147.8"/>
<path class="k" d="M2477.08 965H2489.88M2477.08 1247H2489.88"/>
<rect x="2470.73" y="1064.2" width="25.5" height="83.6" fill="#FFE680" stroke="#00001a" stroke-width="2.3"/>
<path d="M2471.83 1099H2495.13" stroke="#806600" stroke-width="2.1"/>
<path class="k" d="M2470.98 922.5H2495.98M2483.48 910V935"/>
<path class="w" d="M2534.43 1071.3V981"/>
<path class="w" d="M2534.43 1250.8V1143.8"/>
<path class="k" d="M2528.03 981H2540.83M2528.03 1250.8H2540.83"/>
<rect x="2521.68" y="1071.3" width="25.5" height="72.5" fill="#99E699" stroke="#00001a" stroke-width="2.3"/>
<path d="M2522.78 1101.3H2546.08" stroke="#1A661A" stroke-width="2.1"/>
<path class="k" d="M2521.93 912H2546.93M2534.43 899.5V924.5"/>
<path class="w" d="M2585.38 1075V986.3"/>
<path class="w" d="M2585.38 1254.3V1148.5"/>
<path class="k" d="M2578.98 986.3H2591.78M2578.98 1254.3H2591.78"/>
<rect x="2572.63" y="1075" width="25.5" height="73.5" fill="#80CCE6" stroke="#00001a" stroke-width="2.3"/>
<path d="M2573.73 1106H2597.03" stroke="#004D66" stroke-width="2.1"/>
<path class="k" d="M2572.88 958.8H2597.88M2585.38 946.3V971.3"/>
<rect x="1566.4" y="785.35" width="1095.4" height="572.2" fill="none" stroke="#262626" stroke-width="2.2"/>
<path d="M1617.35 783.85v3M1617.35 1356.05v3M1668.3 783.85v3M1668.3 1356.05v3M1719.25 783.85v3M1719.25 1356.05v3M1770.2 783.85v3M1770.2 1356.05v3M1821.14 783.85v3M1821.14 1356.05v3M1872.09 783.85v3M1872.09 1356.05v3M1923.04 783.85v3M1923.04 1356.05v3M1973.99 783.85v3M1973.99 1356.05v3M2024.94 783.85v3M2024.94 1356.05v3M2075.89 783.85v3M2075.89 1356.05v3M2126.84 783.85v3M2126.84 1356.05v3M2177.79 783.85v3M2177.79 1356.05v3M2228.73 783.85v3M2228.73 1356.05v3M2279.68 783.85v3M2279.68 1356.05v3M2330.63 783.85v3M2330.63 1356.05v3M2381.58 783.85v3M2381.58 1356.05v3M2432.53 783.85v3M2432.53 1356.05v3M2483.48 783.85v3M2483.48 1356.05v3M2534.43 783.85v3M2534.43 1356.05v3M2585.38 783.85v3M2585.38 1356.05v3M2636.33 783.85v3M2636.33 1356.05v3M1564.9 1357.55h3M2660.3 1357.55h3M1564.9 1275.81h3M2660.3 1275.81h3M1564.9 1194.06h3M2660.3 1194.06h3M1564.9 1112.32h3M2660.3 1112.32h3M1564.9 1030.58h3M2660.3 1030.58h3M1564.9 948.84h3M2660.3 948.84h3M1564.9 867.09h3M2660.3 867.09h3M1564.9 785.35h3M2660.3 785.35h3" stroke="#262626" stroke-width="2.2" opacity="0.6" fill="none"/>
<text class="t" transform="translate(1549.4 1374.35) scale(1 1.04)" text-anchor="end">0</text>
<text class="t" transform="translate(1549.4 1292.61) scale(1 1.04)" text-anchor="end">1</text>
<text class="t" transform="translate(1549.4 1210.86) scale(1 1.04)" text-anchor="end">2</text>
<text class="t" transform="translate(1549.4 1129.12) scale(1 1.04)" text-anchor="end">3</text>
<text class="t" transform="translate(1549.4 1047.38) scale(1 1.04)" text-anchor="end">4</text>
<text class="t" transform="translate(1549.4 965.64) scale(1 1.04)" text-anchor="end">5</text>
<text class="t" transform="translate(1549.4 883.89) scale(1 1.04)" text-anchor="end">6</text>
<text class="t" transform="translate(1549.4 802.15) scale(1 1.04)" text-anchor="end">7</text>
<text class="t" transform="translate(1668.3 1417.25) scale(1 1.04)" text-anchor="middle">1</text>
<text class="t" transform="translate(1923.04 1417.25) scale(1 1.04)" text-anchor="middle">3</text>
<text class="t" transform="translate(2177.79 1417.25) scale(1 1.04)" text-anchor="middle">6</text>
<text class="t" transform="translate(2432.53 1417.25) scale(1 1.04)" text-anchor="middle">12</text>
<text class="l" x="2114.1" y="1477.65" text-anchor="middle">Number of Training Months</text>
<text class="l" transform="translate(1431.7 1072.25) rotate(-90)" text-anchor="middle">Observed Wind Speed</text>
<text class="l" transform="translate(1503 1071.45) rotate(-90)" text-anchor="middle">Standard Deviation (m s<tspan dx="1.7" dy="-22.7" font-size="37.2">-1</tspan><tspan dx="2.2" dy="22.7">)</tspan></text>
<text class="n" x="1587.9" y="834.15">(d)</text>
</g>
<g>
<rect x="2695.7" y="222.7" width="604.8" height="207.6" fill="#fff" stroke="#262626" stroke-width="2.1"/>
<rect x="2708.9" y="235" width="124.4" height="35.2" fill="#80CCE6" stroke="#000" stroke-width="2.1"/>
<text class="g" x="2843.5" y="268">RT Worst Case: Rel. Err.</text>
<rect x="2708.9" y="284.3" width="124.4" height="35.2" fill="#99E699" stroke="#000" stroke-width="2.1"/>
<text class="g" x="2843.5" y="317.05">ARS Worst Case: Rel. Err.</text>
<rect x="2708.9" y="333.6" width="124.4" height="35.2" fill="#FFE680" stroke="#000" stroke-width="2.1"/>
<text class="g" x="2843.5" y="366.1">MLR Worst Case: Rel. Err.</text>
<rect x="2708.9" y="382.9" width="124.4" height="35.2" fill="#CC80FF" stroke="#000" stroke-width="2.1"/>
<text class="g" x="2843.5" y="415.15">Average</text>
</g>
<g>
<rect x="2695.7" y="968.3" width="540.1" height="207.6" fill="#fff" stroke="#262626" stroke-width="2.1"/>
<rect x="2708.9" y="980.6" width="124.4" height="35.2" fill="#80CCE6" stroke="#000" stroke-width="2.1"/>
<text class="g" x="2843.5" y="1013.6">RT Worst Case: Corr</text>
<rect x="2708.9" y="1029.9" width="124.4" height="35.2" fill="#99E699" stroke="#000" stroke-width="2.1"/>
<text class="g" x="2843.5" y="1062.65">ARS Worst Case: Corr</text>
<rect x="2708.9" y="1079.2" width="124.4" height="35.2" fill="#FFE680" stroke="#000" stroke-width="2.1"/>
<text class="g" x="2843.5" y="1111.7">MLR Worst Case: Corr</text>
<rect x="2708.9" y="1128.5" width="124.4" height="35.2" fill="#CC80FF" stroke="#000" stroke-width="2.1"/>
<text class="g" x="2843.5" y="1160.75">Average</text>
</g>
</svg></body></html>
